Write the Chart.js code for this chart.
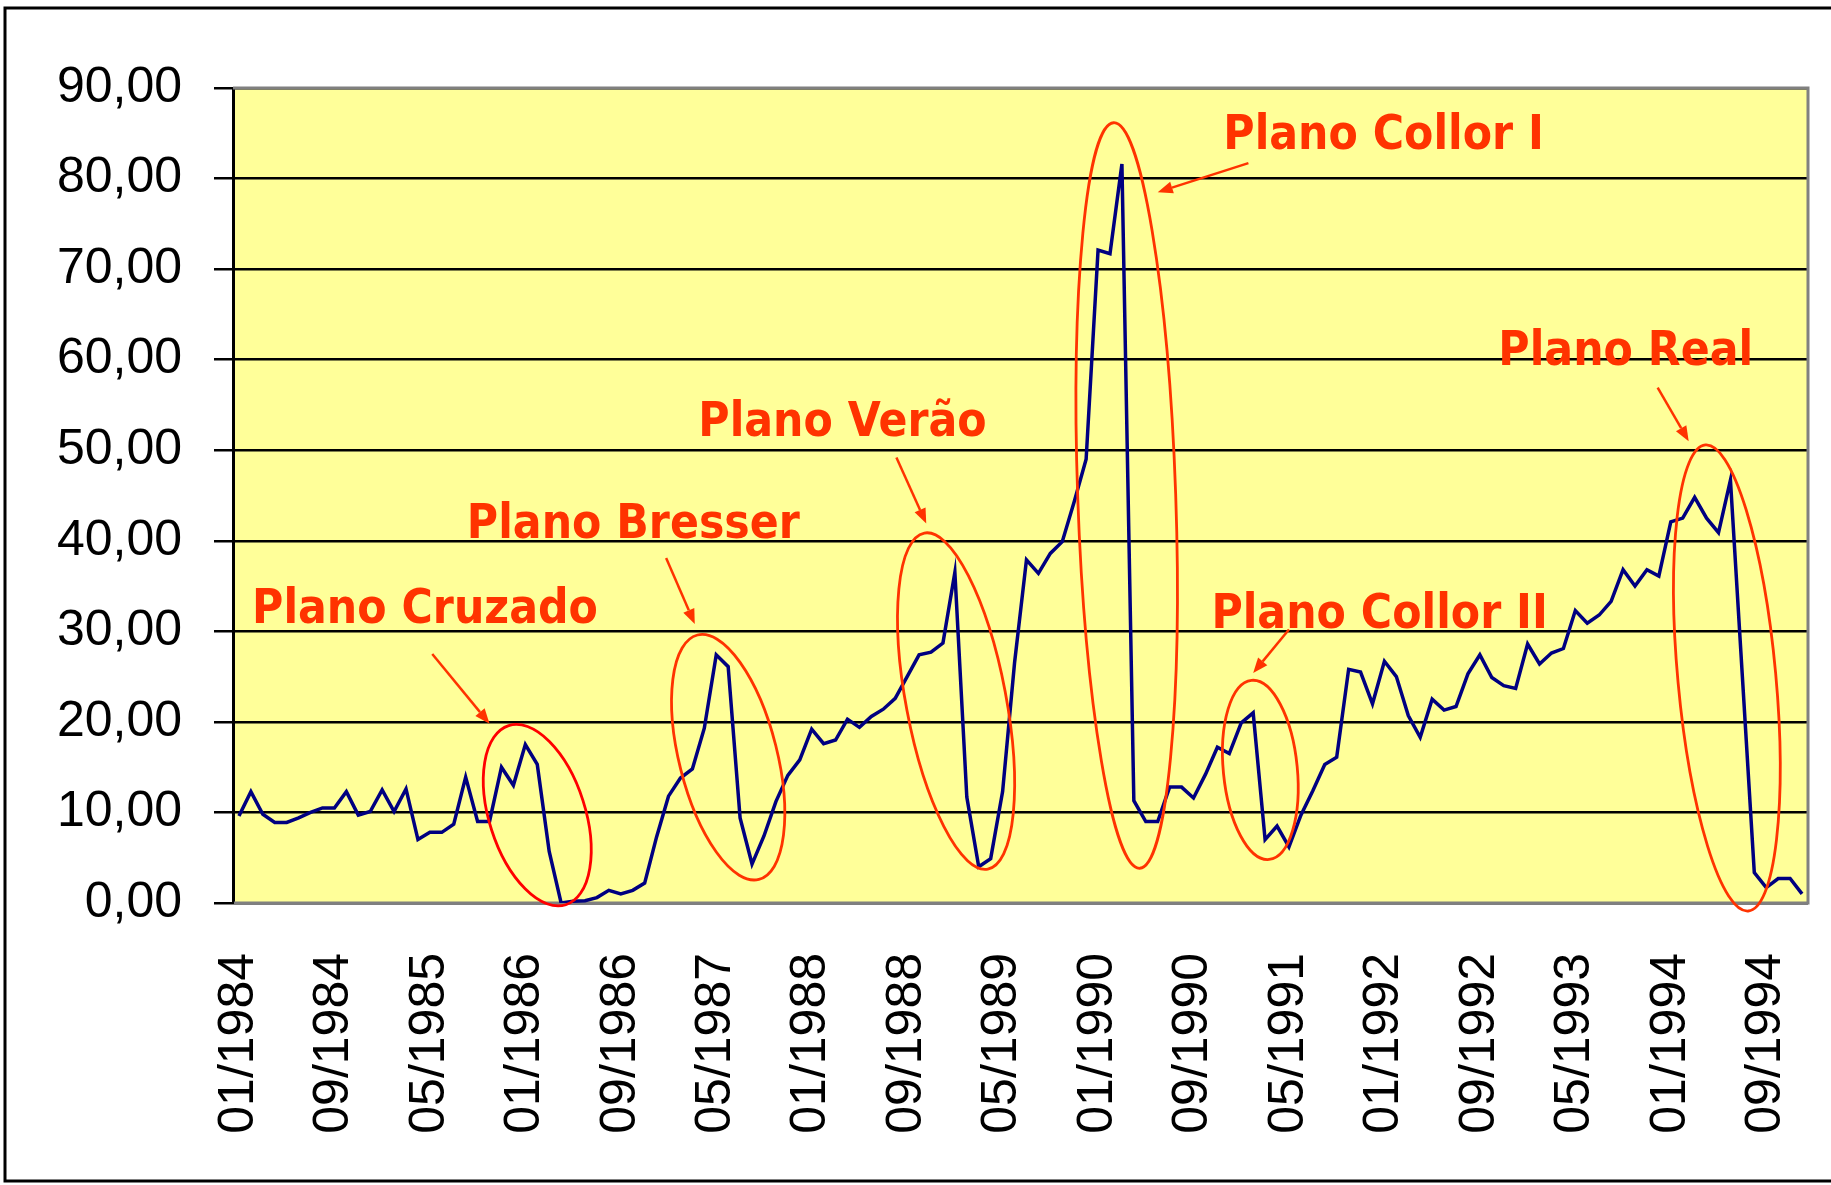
<!DOCTYPE html>
<html>
<head>
<meta charset="utf-8">
<script src="https://cdn.jsdelivr.net/npm/chart.js@4.4.1/dist/chart.umd.min.js"></script>
<style>
html, body { margin: 0; padding: 0; background: #fff; }
#wrap { width: 1831px; height: 1185px; }
</style>
</head>
<body>
<div id="wrap"><canvas id="chart" width="1831" height="1185"></canvas></div>
<script>
// monthly values, one array per year (Jan..Dec)
const v1984 = [9.6, 12.3, 9.8, 8.9, 8.9, 9.4, 10.0, 10.5, 10.5, 12.3, 9.7, 10.1];
const v1985 = [12.5, 10.1, 12.6, 7.0, 7.8, 7.8, 8.7, 13.9, 9.0, 9.0, 15.0, 13.0];
const v1986 = [17.5, 15.3, 5.7, 0.0, 0.2, 0.25, 0.6, 1.4, 1.0, 1.4, 2.2, 7.3];
const v1987 = [11.8, 13.8, 14.8, 19.3, 27.4, 26.1, 9.4, 4.3, 7.4, 11.2, 14.1, 15.8];
const v1988 = [19.2, 17.6, 18.0, 20.3, 19.4, 20.6, 21.4, 22.6, 25.0, 27.4, 27.7, 28.7];
const v1989 = [36.5, 11.7, 4.0, 4.9, 12.3, 26.5, 37.9, 36.4, 38.6, 39.9, 44.3, 49.0];
const v1990 = [72.1, 71.7, 81.6, 11.3, 9.0, 9.0, 12.8, 12.8, 11.6, 14.2, 17.2, 16.5];
const v1991 = [19.9, 21.0, 7.0, 8.5, 6.2, 9.7, 12.4, 15.3, 16.1, 25.8, 25.5, 22.0];
const v1992 = [26.7, 25.0, 20.7, 18.3, 22.5, 21.3, 21.7, 25.3, 27.4, 24.9, 24.0, 23.7];
const v1993 = [28.6, 26.4, 27.6, 28.1, 32.3, 30.9, 31.8, 33.3, 36.8, 35.0, 36.8, 36.1];
const v1994 = [42.1, 42.5, 44.8, 42.5, 40.9, 46.7, 25.0, 3.35, 1.7, 2.7, 2.7, 1.0];

const years = [1984, 1985, 1986, 1987, 1988, 1989, 1990, 1991, 1992, 1993, 1994];
const monthCodes = ['01', '02', '03', '04', '05', '06', '07', '08', '09', '10', '11', '12'];
const shownTicks = ['01/1984', '09/1984', '05/1985', '01/1986', '09/1986', '05/1987', '01/1988',
  '09/1988', '05/1989', '01/1990', '09/1990', '05/1991', '01/1992', '09/1992', '05/1993',
  '01/1994', '09/1994'];
const yTicks = [0, 10, 20, 30, 40, 50, 60, 70, 80, 90];

const labels = [];
years.forEach(y => monthCodes.forEach(m => labels.push(m + '/' + y)));
const values = [].concat(v1984, v1985, v1986, v1987, v1988, v1989, v1990, v1991, v1992, v1993, v1994);

// annotations: names, then where they sit (month index, value) and how big the rings are
const planNames = ['Plano Cruzado', 'Plano Bresser', 'Plano Verão', 'Plano Collor I', 'Plano Collor II', 'Plano Real'];
const planLayout = [
  { text: [1.1, 30.95],   ring: [25.0, 9.7, 94, 48, 17.7],   ringColor: '#FF0000', arrow: [16.2, 27.5, 21.0, 19.8] },
  { text: [19.1, 40.35],  ring: [41.0, 16.1, 126, 49, 14.1], ringColor: '#FF3300', arrow: [35.8, 38.1, 38.2, 30.8] },
  { text: [38.5, 51.6],   ring: [60.1, 22.3, 171, 50, 10.7], ringColor: '#FF3300', arrow: [55.1, 49.2, 57.6, 41.9] },
  { text: [82.5, 83.3],   ring: [74.4, 45.0, 373, 49, 2.0],  ringColor: '#FF3300', arrow: [84.6, 81.7, 77.0, 78.5] },
  { text: [81.5, 30.4],   ring: [85.6, 14.7, 90, 37, 5.6],   ringColor: '#FF3300', arrow: [88.0, 30.2, 85.0, 25.4] },
  { text: [105.55, 59.4], ring: [124.7, 24.85, 234, 49, 5.25], ringColor: '#FF3300', arrow: [118.9, 56.9, 121.5, 51.0] }
];

const planosPlugin = {
  id: 'planos',
  beforeDraw(chart) {
    const { ctx, chartArea: a } = chart;
    ctx.save();
    ctx.fillStyle = '#FFFFFF';
    ctx.fillRect(0, 0, chart.width, chart.height);
    ctx.fillStyle = '#FFFF99';
    ctx.fillRect(a.left, a.top, a.right - a.left, a.bottom - a.top);
    ctx.restore();
  },
  beforeDatasetsDraw(chart) {
    const { ctx, chartArea: a } = chart;
    ctx.save();
    ctx.strokeStyle = '#808080';
    ctx.lineWidth = 3;
    ctx.beginPath();
    ctx.moveTo(a.left, a.top);
    ctx.lineTo(a.right, a.top);
    ctx.lineTo(a.right, a.bottom);
    ctx.lineTo(a.left + 1, a.bottom);
    ctx.stroke();
    ctx.restore();
  },
  afterDatasetsDraw(chart) {
    const { ctx, scales: { x, y } } = chart;
    ctx.save();
    planLayout.forEach((p, i) => {
      // ring
      const [rm, rv, ra, rb, tilt] = p.ring;
      ctx.strokeStyle = p.ringColor;
      ctx.lineWidth = 2.8;
      ctx.beginPath();
      ctx.ellipse(x.getPixelForValue(rm), y.getPixelForValue(rv), rb, ra, -tilt * Math.PI / 180, 0, 2 * Math.PI);
      ctx.stroke();

      // arrow
      const x1 = x.getPixelForValue(p.arrow[0]), y1 = y.getPixelForValue(p.arrow[1]);
      const x2 = x.getPixelForValue(p.arrow[2]), y2 = y.getPixelForValue(p.arrow[3]);
      const ang = Math.atan2(y2 - y1, x2 - x1);
      const head = 15, half = 6;
      ctx.strokeStyle = '#FF3300';
      ctx.fillStyle = '#FF3300';
      ctx.lineWidth = 2.5;
      ctx.beginPath();
      ctx.moveTo(x1, y1);
      ctx.lineTo(x2 - head * Math.cos(ang), y2 - head * Math.sin(ang));
      ctx.stroke();
      ctx.beginPath();
      ctx.moveTo(x2, y2);
      ctx.lineTo(x2 - head * Math.cos(ang) + half * Math.sin(ang), y2 - head * Math.sin(ang) - half * Math.cos(ang));
      ctx.lineTo(x2 - head * Math.cos(ang) - half * Math.sin(ang), y2 - head * Math.sin(ang) + half * Math.cos(ang));
      ctx.closePath();
      ctx.fill();

      // label
      ctx.save();
      ctx.translate(x.getPixelForValue(p.text[0]), y.getPixelForValue(p.text[1]));
      ctx.scale(0.89, 1);
      ctx.font = 'bold 48px "DejaVu Sans", Verdana, sans-serif';
      ctx.fillStyle = '#FF3300';
      ctx.textBaseline = 'alphabetic';
      ctx.textAlign = 'left';
      ctx.fillText(planNames[i], 0, 0);
      ctx.restore();
    });
    ctx.restore();
  },
  afterDraw(chart) {
    const { ctx } = chart;
    ctx.save();
    ctx.strokeStyle = '#000000';
    ctx.lineWidth = 3;
    ctx.strokeRect(5, 8, 1860, 1173);
    ctx.restore();
  }
};

new Chart(document.getElementById('chart'), {
  type: 'line',
  data: {
    labels: labels,
    datasets: [{
      data: values,
      borderColor: '#000080',
      borderWidth: 3.5,
      pointRadius: 0,
      tension: 0,
      fill: false
    }]
  },
  options: {
    responsive: false,
    animation: false,
    devicePixelRatio: 1,
    layout: { padding: { left: 0, top: 88, right: 23, bottom: 0 } },
    plugins: {
      legend: { display: false },
      tooltip: { enabled: false }
    },
    scales: {
      x: {
        type: 'category',
        offset: true,
        grid: { display: false, drawTicks: false, offset: true },
        border: { display: false },
        ticks: {
          autoSkip: false,
          minRotation: 90,
          maxRotation: 90,
          padding: 50,
          color: '#000000',
          font: { family: '"Liberation Sans", Arial, sans-serif', size: 50 },
          callback: function (val) {
            const lab = this.getLabelForValue(val);
            return shownTicks.includes(lab) ? lab : '';
          }
        },
        afterFit: s => { s.height = 282; s.paddingLeft = 0; s.paddingRight = 0; }
      },
      y: {
        min: 0,
        max: 90,
        afterBuildTicks: s => { s.ticks = yTicks.map(v => ({ value: v })); },
        grid: { color: '#000000', lineWidth: 2.5, tickLength: 19, tickColor: '#000000', drawTicks: true },
        border: { display: true, color: '#000000', width: 3 },
        ticks: {
          padding: 32,
          color: '#000000',
          font: { family: '"Liberation Sans", Arial, sans-serif', size: 50 },
          callback: v => v.toFixed(2).replace('.', ',')
        },
        afterFit: s => { s.width = 233; s.paddingTop = 0; s.paddingBottom = 0; }
      }
    }
  },
  plugins: [planosPlugin]
});
</script>
</body>
</html>
